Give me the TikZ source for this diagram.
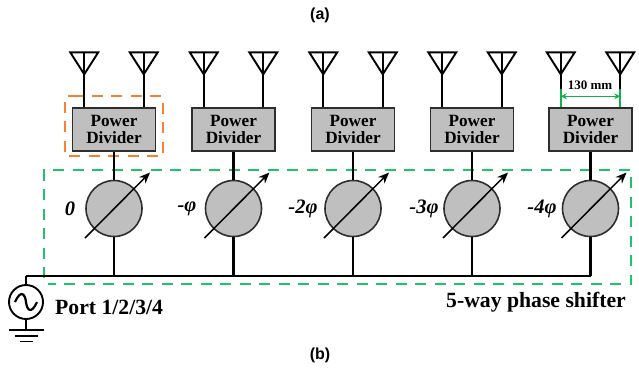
\documentclass[tikz,border=0pt]{standalone}
\usepackage{fontspec}
\setmainfont{Liberation Serif}
\newfontfamily\labelsans{Liberation Sans}
\usetikzlibrary{arrows.meta,calc}
\definecolor{boxgray}{HTML}{BFBFBF}
\definecolor{edgegray}{HTML}{2E2E2E}
\definecolor{greenbox}{HTML}{1FC46A}
\definecolor{greendim}{HTML}{12B050}
\definecolor{orangebox}{HTML}{F58233}
\tikzset{
  wire/.style={line width=2.3pt,black},
  divbox/.style={draw=edgegray,line width=1.4pt,fill=boxgray,minimum width=83pt,minimum height=43pt,inner sep=0pt,align=center,
    font=\fontsize{17.2}{17.5}\selectfont\bfseries},
  shifter/.style={circle,draw=edgegray,line width=1.6pt,fill=boxgray,minimum size=56pt,inner sep=0pt},
  antline/.style={line width=1.9pt,black,line join=miter},
  phaselabel/.style={font=\fontsize{20.5}{22}\selectfont\bfseries\itshape,inner sep=0pt},
  biglabel/.style={font=\fontsize{21.7}{24}\selectfont\bfseries,inner sep=0pt},
  caption/.style={font=\labelsans\fontsize{16}{18}\selectfont\bfseries,inner sep=0pt},
  dashgreen/.style={draw=greenbox,line width=1.5pt,dash pattern=on 11pt off 8.5pt},
  dashorange/.style={draw=orangebox,line width=1.5pt,dash pattern=on 11pt off 8.5pt},
}
\begin{document}
\begin{tikzpicture}[x=1pt,y=-1pt]
\useasboundingbox (0,0) rectangle (639,368);
\node[caption] (capa) at (320,15) {(a)};
\node[caption] (capb) at (320,355) {(b)};
% dashed frames
\draw[dashgreen] (44,278) -- (44,170) -- (631,170) -- (631,284) -- (48,284);
\draw[dashorange] (72,96) -- (163,96) -- (163,156) -- (65,156) -- (65,96) -- (72,96);
% bus
\coordinate (busL) at (26,276);
\coordinate (busR) at (590.5,276);
% branches
\foreach \i/\cx/\lab/\lx in {1/114/{0}/70,2/233.5/{-φ}/187,3/353/{-2φ}/303,4/472/{-3φ}/424,5/590.5/{-4φ}/542}{
  \node[divbox] (pd\i) at (\cx,129.5) {Power\\Divider};
  \node[shifter] (ps\i) at (\cx,208.5) {};
  \coordinate (bus\i) at (\cx,276);
  \draw[wire] (pd\i.south) -- (ps\i.north);
  \draw[wire] (ps\i.south) -- (bus\i);
  \coordinate (tail\i) at ($(ps\i)+(-29,29.5)$);
  \coordinate (head\i) at ($(ps\i)+(36,-36)$);
  \draw[line width=1.5pt,black,-{Stealth[length=11pt,width=9pt]}] (tail\i) -- (head\i);
  \node[phaselabel] (ph\i) at (\lx,209) {\lab};
  \foreach \s/\dx in {a/-29.75,b/29.75}{
    \coordinate (st\i\s) at ($(pd\i.north)+(\dx,0)$);
    \coordinate (top\i\s) at ($(st\i\s)+(0,-55)$);
    \coordinate (tip\i\s) at ($(top\i\s)+(0,22)$);
    \draw[antline] (st\i\s) -- (top\i\s);
    \draw[antline] ($(top\i\s)+(-14,0)$) -- ($(top\i\s)+(14,0)$) -- (tip\i\s) -- cycle;
  }
}
\draw[wire] (busL) -- (busR);
% source
\node[circle,draw=black,line width=1.9pt,fill=white,minimum size=34pt,inner sep=0pt] (src) at (26,302) {};
\draw[wire] (busL) -- (src.north);
\draw[line width=2.2pt] ($(src)+(-11,0)$) .. controls ($(src)+(-5,-13)$) and ($(src)+(-1,-8)$) .. (src.center) .. controls ($(src)+(1,8)$) and ($(src)+(5,13)$) .. ($(src)+(11,0)$);
\coordinate (gnd) at (26,330);
\draw[wire] (src.south) -- (gnd);
\draw[line width=1.9pt] (9,330) -- (44,330);
\draw[line width=1.9pt] (15,336) -- (38,336);
\draw[line width=1.9pt] (20,341.5) -- (33,341.5);
% text labels
\node[biglabel,anchor=west] (port) at (55,307) {Port 1/2/3/4};
\node[biglabel,anchor=east] (way) at (626,302) {5-way phase shifter};
% dimension
\draw[line width=2pt,greendim] (st5a) -- ($(st5a)+(0,-18)$);
\draw[line width=2pt,greendim] (st5b) -- ($(st5b)+(0,-18)$);
\coordinate (dimL) at ($(st5a)+(0,-11)$);
\coordinate (dimR) at ($(st5b)+(0,-11)$);
\draw[line width=1.5pt,greendim,{Stealth[length=6pt,width=6pt]}-{Stealth[length=6pt,width=6pt]}] (dimL) -- (dimR);
\node[font=\fontsize{13}{14}\selectfont\bfseries,inner sep=0pt] (dimt) at (590,85.5) {130 mm};
\end{tikzpicture}
\end{document}
